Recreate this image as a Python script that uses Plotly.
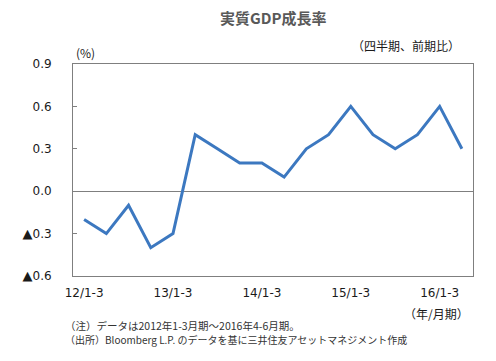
import plotly.graph_objects as go

quarters = ["12/1-3", "12/4-6", "12/7-9", "12/10-12",
            "13/1-3", "13/4-6", "13/7-9", "13/10-12",
            "14/1-3", "14/4-6", "14/7-9", "14/10-12",
            "15/1-3", "15/4-6", "15/7-9", "15/10-12",
            "16/1-3", "16/4-6"]
growth = [-0.2, -0.3, -0.1, -0.4, -0.3, 0.4, 0.3, 0.2, 0.2, 0.1,
          0.3, 0.4, 0.6, 0.4, 0.3, 0.4, 0.6, 0.3]
x_tick_labels = ["12/1-3", "13/1-3", "14/1-3", "15/1-3", "16/1-3"]
y_tick_vals = [0.9, 0.6, 0.3, 0.0, -0.3, -0.6]
y_tick_text = ["0.9", "0.6", "0.3", "0.0",
               "<span style='font-family:DejaVu Sans;font-size:13px'>▲</span>0.3",
               "<span style='font-family:DejaVu Sans;font-size:13px'>▲</span>0.6"]

font = "Noto Sans CJK JP, Noto Sans, sans-serif"
num_font = "DejaVu Sans, Verdana, sans-serif"
axis_col = "#7f7f7f"

fig = go.Figure()
fig.add_trace(go.Scatter(x=quarters, y=growth, mode="lines",
                         line=dict(color="#3c78c0", width=3), hoverinfo="x+y"))

W, H = 496, 361
l, r, t, b = 73, 23, 64, 85
pw, ph = W - l - r, H - t - b

def px(xp):
    return (xp - l) / pw

def py(yp):
    return (H - b - yp) / ph

def note(text, x, y, xanchor, size, color, fam=font):
    return dict(text=text, x=px(x), y=py(y), xref="paper", yref="paper",
                xanchor=xanchor, yanchor="middle", showarrow=False,
                font=dict(size=size, color=color, family=fam))

fig.update_layout(
    width=W, height=H,
    margin=dict(l=l, r=r, t=t, b=b),
    paper_bgcolor="white", plot_bgcolor="white",
    showlegend=False,
    font=dict(family=font, size=12, color="#1a1a1a"),
    xaxis=dict(type="category", categoryorder="array", categoryarray=quarters,
               range=[-0.5, 17.5], tickmode="array", tickvals=x_tick_labels,
               ticktext=x_tick_labels, ticks="", showgrid=False,
               showline=True, linecolor=axis_col, linewidth=1, mirror=True,
               zeroline=False, ticklabelstandoff=6,
               tickfont=dict(size=12, color="#1a1a1a", family=num_font)),
    yaxis=dict(range=[-0.6, 0.9], tickmode="array", tickvals=y_tick_vals,
               ticktext=y_tick_text, ticks="inside", ticklen=4, tickcolor=axis_col,
               showgrid=False, showline=True, linecolor=axis_col, linewidth=1,
               mirror=True, zeroline=True, zerolinecolor=axis_col, zerolinewidth=1,
               ticklabelstandoff=18,
               tickfont=dict(size=12, color="#1a1a1a", family=num_font)),
    annotations=[
        note("<b>実質GDP成長率</b>", 273, 18, "center", 15, "#595959"),
        note("（四半期、前期比）", 462, 45, "right", 12, "#1a1a1a"),
        note("(%)", 74, 52, "left", 12, "#1a1a1a"),
        note("（年/月期）", 471, 313, "right", 12, "#1a1a1a"),
        note("（注）データは2012年1-3月期～2016年4-6月期。", 63, 325, "left", 10.5, "#333333"),
        note("（出所）Bloomberg L.P. のデータを基に三井住友アセットマネジメント作成", 63, 339, "left", 10, "#333333"),
    ],
)

fig.write_html("out.html", config={"displayModeBar": False},
               post_script="document.body.style.margin='0';document.body.style.overflow='hidden';")
